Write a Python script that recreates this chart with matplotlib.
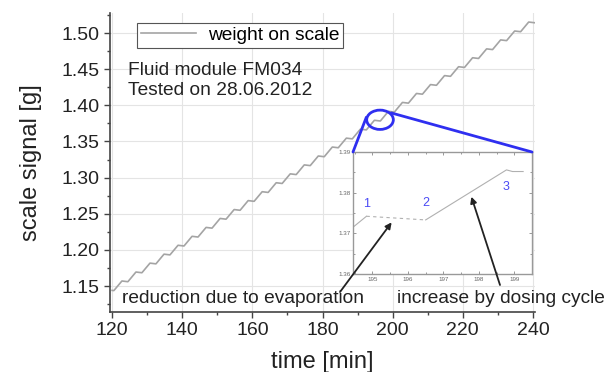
import numpy as np
import matplotlib.pyplot as plt
from matplotlib.patches import Ellipse, ConnectionPatch
from matplotlib.ticker import MultipleLocator

plt.rcParams['font.family'] = ['Liberation Sans', 'DejaVu Sans']

# main record: corner points of the dosing/evaporation cycles
time_min = [120.0, 120.5,
            122.8, 124.5, 126.8, 128.5, 130.8, 132.5, 134.8, 136.5,
            138.8, 140.5, 142.8, 144.5, 146.8, 148.5, 150.8, 152.5,
            154.8, 156.5, 158.8, 160.5, 162.8, 164.5, 166.8, 168.5,
            170.8, 172.5, 174.8, 176.5, 178.8, 180.5, 182.8, 184.5,
            186.8, 188.5, 190.8, 192.5, 194.8, 196.5, 198.8, 200.5,
            202.8, 204.5, 206.8, 208.5, 210.8, 212.5, 214.8, 216.5,
            218.8, 220.5, 222.8, 224.5, 226.8, 228.5, 230.8, 232.5,
            234.8, 236.5, 238.8, 240.5]
signal_g = [1.1440, 1.1437,
            1.1570, 1.1560, 1.1694, 1.1684, 1.1817, 1.1807, 1.1941, 1.1931,
            1.2064, 1.2054, 1.2188, 1.2178, 1.2311, 1.2301, 1.2435, 1.2425,
            1.2558, 1.2548, 1.2682, 1.2672, 1.2805, 1.2795, 1.2929, 1.2919,
            1.3052, 1.3042, 1.3176, 1.3166, 1.3299, 1.3289, 1.3423, 1.3413,
            1.3546, 1.3536, 1.3670, 1.3660, 1.3793, 1.3783, 1.3917, 1.3907,
            1.4040, 1.4030, 1.4164, 1.4154, 1.4287, 1.4277, 1.4411, 1.4401,
            1.4534, 1.4524, 1.4658, 1.4648, 1.4781, 1.4771, 1.4905, 1.4895,
            1.5028, 1.5018, 1.5152, 1.5142]

# zoomed detail (inset)
zoom_t = [194.45, 194.83, 196.50, 198.78, 198.95, 199.25]
zoom_v = [1.3715, 1.3742, 1.3733, 1.3856, 1.3852, 1.3852]
cycle_labels = ['1', '2', '3']
cycle_idx = [1, 2, 3]

fig = plt.figure(figsize=(6.06, 3.72), dpi=100)
ax = fig.add_axes([110/606, 60/372, 425/606, 299/372])

ax.plot(time_min, signal_g, color='#a4a4a4', lw=1.2, label='weight on scale')
ax.set_xlim(119.4, 240.6)
ax.set_ylim(1.1141, 1.5277)
ax.xaxis.set_major_locator(MultipleLocator(20))
ax.xaxis.set_minor_locator(MultipleLocator(10))
ax.yaxis.set_major_locator(MultipleLocator(0.05))
ax.yaxis.set_minor_locator(MultipleLocator(0.025))
ax.yaxis.set_major_formatter(plt.FormatStrFormatter('%.2f'))
ax.grid(True, which='major', color='#e4e4e4', lw=0.8)
for s in ['top', 'right']:
    ax.spines[s].set_visible(False)
for s in ['left', 'bottom']:
    ax.spines[s].set_color('#444444')
    ax.spines[s].set_linewidth(1.2)
ax.tick_params(which='major', length=4, width=1, colors='#444444', labelsize=14,
               labelcolor='#222222')
ax.tick_params(which='minor', length=2.5, width=1, colors='#444444')
ax.set_xlabel('time [min]', fontsize=17, color='#222222', labelpad=8)
ax.set_ylabel('scale signal [g]', fontsize=17, color='#222222', labelpad=14)

leg = ax.legend(loc='upper left', bbox_to_anchor=(0.0635, 0.967), borderaxespad=0,
                fontsize=13.8, fancybox=False, handlelength=2.9, framealpha=1,
                borderpad=0.2, handletextpad=0.6)
leg.get_frame().set_edgecolor('#555555')
leg.get_frame().set_linewidth(0.8)

ax.text(0.042, 0.809, 'Fluid module FM034', transform=ax.transAxes, fontsize=13.8,
        va='center', color='#222222')
ax.text(0.042, 0.742, 'Tested on 28.06.2012', transform=ax.transAxes, fontsize=13.8,
        va='center', color='#222222')
ax.text(0.028, 0.0435, 'reduction due to evaporation', transform=ax.transAxes,
        fontsize=13.8, va='center', color='#222222')
ax.text(0.675, 0.0435, 'increase by dosing cycle', transform=ax.transAxes,
        fontsize=13.8, va='center', color='#222222', clip_on=False)

# magnifier
blue = '#2f2ff0'
ell = Ellipse((196.4, 1.3800), 7.6, 0.0267, fill=False, ec=blue, lw=2, zorder=5)
ax.add_patch(ell)

axins = fig.add_axes([353/606, 98/372, 179/606, 122/372])
axins.plot(zoom_t[:2], zoom_v[:2], color='#b0b0b0', lw=0.8)
axins.plot(zoom_t[1:3], zoom_v[1:3], color='#b0b0b0', lw=0.8, ls=(0, (3, 3)))
axins.plot(zoom_t[2:], zoom_v[2:], color='#b0b0b0', lw=0.8)
axins.set_xlim(194.45, 199.5)
axins.set_ylim(1.36, 1.39)
axins.xaxis.set_major_locator(MultipleLocator(1))
axins.xaxis.set_minor_locator(MultipleLocator(0.5))
axins.yaxis.set_major_locator(MultipleLocator(0.01))
axins.yaxis.set_minor_locator(MultipleLocator(0.005))
axins.yaxis.set_major_formatter(plt.FormatStrFormatter('%.2f'))
axins.tick_params(which='both', direction='in', top=True, right=True,
                  colors='#888888', labelsize=4.5, labelcolor='#666666', pad=2)
axins.tick_params(which='major', length=2.5, width=0.6)
axins.tick_params(which='minor', length=1.5, width=0.6)
for s in axins.spines.values():
    s.set_color('#999999')
    s.set_linewidth(1.0)

offsets = [(0, 9), (0, 12), (0, -12)]
for lab, i, off in zip(cycle_labels, cycle_idx, offsets):
    axins.annotate(lab, (zoom_t[i], zoom_v[i]), xytext=off, textcoords='offset points',
                   ha='center', va='center', color='#4a4af5', fontsize=9)

for pa, pb in [((192.5, 1.3835), (0, 1)), ((199.6, 1.3895), (1, 1))]:
    cp = ConnectionPatch(xyA=pa, coordsA='data', axesA=ax,
                         xyB=pb, coordsB='axes fraction', axesB=axins,
                         color=blue, lw=2, zorder=6)
    fig.add_artist(cp)

arrow = dict(arrowstyle='-|>', color='#222222', lw=1.3, mutation_scale=9,
             shrinkA=0, shrinkB=0)
axins.annotate('', xy=(195.54, 1.3727), xytext=(340, 80), textcoords='figure pixels',
               arrowprops=arrow)
axins.annotate('', xy=(197.79, 1.3790), xytext=(500, 87), textcoords='figure pixels',
               arrowprops=arrow)

fig.savefig('out.png', dpi=100)
